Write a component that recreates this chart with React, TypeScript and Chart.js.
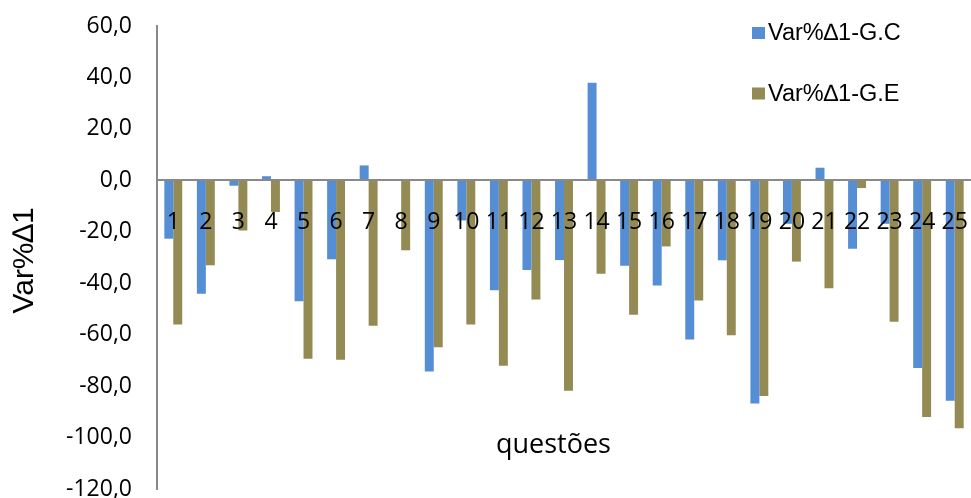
import React, { useEffect, useRef } from 'react';
import { Chart, registerables } from 'chart.js';

Chart.register(...registerables);

const categories = ['1', '2', '3', '4', '5', '6', '7', '8', '9', '10', '11', '12', '13', '14', '15', '16', '17', '18', '19', '20', '21', '22', '23', '24', '25'];
const seriesGC = [-22.7, -44.1, -2.1, 1.6, -47.0, -30.7, 5.8, 0, -74.3, -15.6, -42.7, -34.9, -31.0, 37.9, -33.2, -40.9, -61.9, -31.1, -86.8, -16.9, 4.9, -26.6, -16.9, -73.0, -85.7];
const seriesGE = [-56.0, -33.0, -19.5, -12.3, -69.4, -69.8, -56.5, -27.2, -64.9, -56.0, -72.1, -46.3, -81.8, -36.3, -52.3, -25.7, -46.7, -60.2, -83.8, -31.6, -42.0, -3.0, -55.0, -92.0, -96.4];
const seriesLabels = ['Var%\u22061-G.C', 'Var%\u22061-G.E'];
const seriesColors = ['#558ED5', '#948A54'];
const yAxisTitle = 'Var%\u22061';
const xAxisTitle = 'questões';
const yMin = -120;
const yMax = 60;
const yStep = 20;

export default function App() {
  const ref = useRef<HTMLCanvasElement>(null);

  useEffect(() => {
    const overlay = {
      id: 'overlay',
      afterDraw(chart: any) {
        const ctx = chart.ctx as CanvasRenderingContext2D;
        const area = chart.chartArea;
        ctx.save();
        ctx.fillStyle = '#000';
        // y axis title
        ctx.save();
        ctx.translate(25, (area.top + area.bottom) / 2 + 3);
        ctx.rotate(-Math.PI / 2);
        ctx.font = '30px "Liberation Sans", Arial, sans-serif';
        ctx.textAlign = 'center';
        ctx.textBaseline = 'middle';
        ctx.fillText(yAxisTitle, 0, 0);
        ctx.restore();
        // x axis title
        ctx.font = '27px "Open Sans", sans-serif';
        ctx.textAlign = 'center';
        ctx.textBaseline = 'middle';
        ctx.fillText(xAxisTitle, area.left + (area.right - area.left) * 0.487, area.top + (area.bottom - area.top) * 0.905);
        // legend
        ctx.font = '23.5px "Liberation Sans", Arial, sans-serif';
        ctx.textAlign = 'left';
        chart.data.datasets.forEach((ds: any, i: number) => {
          const cy = 33 + i * 60.5;
          ctx.fillStyle = ds.backgroundColor;
          ctx.fillRect(752, cy - 6, 13, 12);
          ctx.fillStyle = '#000';
          ctx.fillText(ds.label, 768, cy + 1);
        });
        ctx.restore();
      },
    };

    const chart = new Chart(ref.current as HTMLCanvasElement, {
      type: 'bar',
      data: {
        labels: categories,
        datasets: [
          { label: seriesLabels[0], data: seriesGC, backgroundColor: seriesColors[0], barPercentage: 1, categoryPercentage: 0.55 },
          { label: seriesLabels[1], data: seriesGE, backgroundColor: seriesColors[1], barPercentage: 1, categoryPercentage: 0.55 },
        ],
      },
      options: {
        animation: false,
        responsive: false,
        maintainAspectRatio: false,
        layout: { padding: { top: 26, bottom: 9, left: 0, right: 0 } },
        plugins: { legend: { display: false }, tooltip: { enabled: false } },
        scales: {
          x: {
            position: { y: 0 } as any,
            grid: { display: false, drawTicks: false },
            border: { display: true, color: '#898989', width: 2, z: 1 },
            ticks: {
              z: 1,
              padding: 28,
              color: '#000',
              font: { family: '"Open Sans", sans-serif', size: 23 },
              maxRotation: 0,
              autoSkip: false,
            },
            afterFit(scale: any) {
              scale.paddingLeft = 0;
              scale.paddingRight = 0;
            },
          },
          y: {
            min: yMin,
            max: yMax,
            grid: { display: false, drawTicks: false },
            border: { display: true, color: '#898989', width: 2 },
            ticks: {
              stepSize: yStep,
              padding: 25,
              color: '#000',
              font: { family: '"Open Sans", sans-serif', size: 23 },
              callback: (v: any) => Number(v).toFixed(1).replace('.', ','),
            },
            afterFit(scale: any) {
              scale.width = 157;
              scale.paddingTop = 0;
              scale.paddingBottom = 0;
            },
          },
        },
      },
      plugins: [overlay],
    });
    return () => chart.destroy();
  }, []);

  return (
    <div style={{ position: 'fixed', left: 0, top: 0, width: 971, height: 498, background: '#fff' }}>
      <canvas ref={ref} width={971} height={498} style={{ display: 'block' }} />
    </div>
  );
}
